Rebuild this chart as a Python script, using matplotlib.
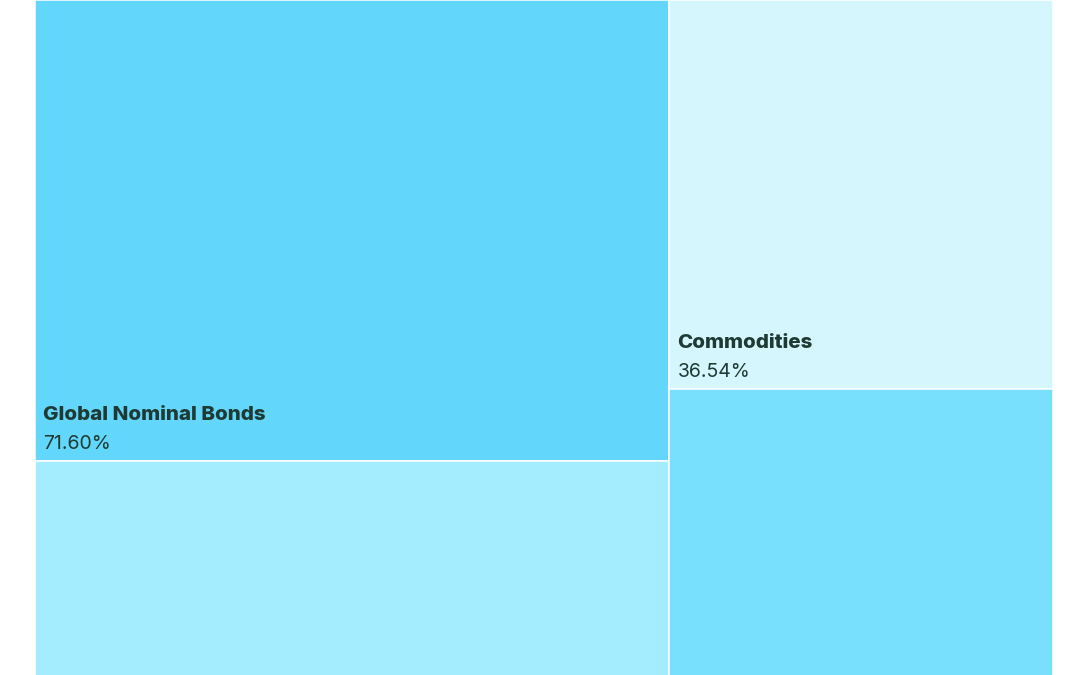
import matplotlib
matplotlib.use("Agg")
import matplotlib.pyplot as plt
from matplotlib.patches import Rectangle

# Data
labels = ["Global Nominal Bonds", None, "Commodities", None]
values = [71.60, 45.0, 36.54, 34.0]
colors = ["#63D6FB", "#A4ECFF", "#D6F6FE", "#78E0FD"]
columns = [[0, 1], [2, 3]]

plt.rcParams['font.family'] = ['Inter', 'DejaVu Sans']

W, H = 1080, 675
fig = plt.figure(figsize=(W / 100, H / 100), dpi=100)
fig.patch.set_facecolor("white")
# axes extends below the visible canvas (treemap is cropped)
full_h = 750
ax = fig.add_axes([35 / W, (H - full_h) / H, 1018 / W, full_h / H])
ax.set_xlim(0, 1)
ax.set_ylim(1, 0)
ax.axis("off")

total = sum(values)
x0 = 0.0
for col in columns:
    csum = sum(values[i] for i in col)
    w = csum / total
    y0 = 0.0
    for i in col:
        h = values[i] / csum
        ax.add_patch(Rectangle((x0, y0), w, h, facecolor=colors[i],
                               edgecolor="white", linewidth=1.1))
        if labels[i]:
            ax.annotate(labels[i], xy=(x0, y0 + h), xytext=(6, 29),
                        textcoords="offset points", ha="left", va="baseline",
                        fontsize=14.8, fontweight="heavy", color="#1E3A33")
            ax.annotate(f"{values[i]:.2f}%", xy=(x0, y0 + h), xytext=(6, 8),
                        textcoords="offset points", ha="left", va="baseline",
                        fontsize=14, color="#1E3A33")
        y0 += h
    x0 += w

fig.savefig("out.png", dpi=100)
